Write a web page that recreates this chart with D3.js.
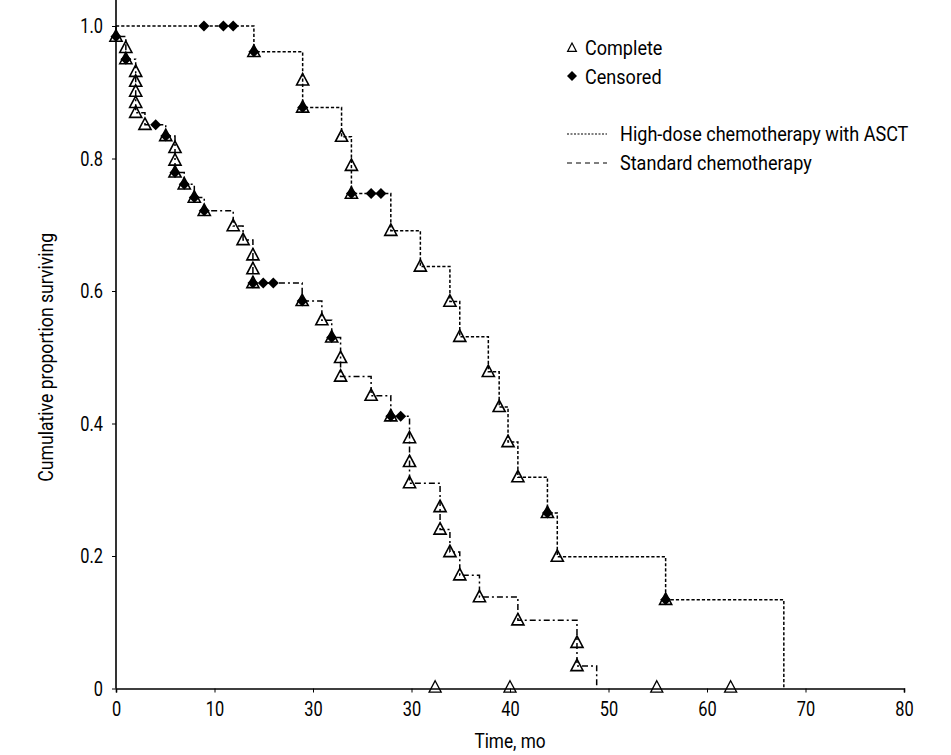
<!DOCTYPE html>
<html>
<head>
<meta charset="utf-8">
<script src="https://cdn.jsdelivr.net/npm/d3@7/dist/d3.min.js"></script>
<style>
  html, body { margin: 0; padding: 0; background: #fff; }
  svg { display: block; }
  text { font-family: Roboto, "Liberation Sans", sans-serif; fill: #000; }
</style>
</head>
<body>
<svg id="chart" width="951" height="755"></svg>
<script>
// ---- Data ----
// x tick values and the labels as printed in the original (note the repeated "30")
const xTickValues = [0, 10, 20, 30, 40, 50, 60, 70, 80];
const xTickLabels = ["0", "10", "30", "30", "40", "50", "60", "70", "80"];
const yTickValues = [0, 0.2, 0.4, 0.6, 0.8, 1.0];
const yTickLabels = ["0", "0.2", "0.4", "0.6", "0.8", "1.0"];

// Standard chemotherapy: event time (mo), survival after event, marker type
// marker: "t" = complete (triangle), "c" = censored (diamond), "tc" = both, "" = none
const stdTimes = [0, 1.0, 1.0, 2.0, 2.0, 2.0, 2.0, 2.0, 2.94, 4.03, 5.05, 5.99, 5.99, 5.99, 6.93, 7.95, 8.96,
  11.9, 12.9, 13.9, 13.9, 13.9, 14.95, 15.97, 18.9, 20.9, 21.9, 22.8, 22.8, 25.9, 27.9, 28.9,
  29.8, 29.8, 29.8, 32.9, 32.9, 33.9, 34.9, 36.9, 40.8, 46.8, 46.8, 48.8];
const stdSurv = [0.984, 0.967, 0.950, 0.931, 0.916, 0.901, 0.884, 0.869, 0.851, 0.851, 0.834, 0.816, 0.797, 0.779, 0.761, 0.741, 0.721,
  0.698, 0.677, 0.654, 0.633, 0.612, 0.612, 0.612, 0.585, 0.556, 0.530, 0.499, 0.471, 0.442, 0.411, 0.411,
  0.378, 0.342, 0.310, 0.274, 0.240, 0.206, 0.171, 0.138, 0.103, 0.069, 0.034, 0];
const stdMarks = ["tc", "t", "tc", "t", "t", "t", "t", "t", "t", "c", "tc", "t", "t", "tc", "tc", "tc", "tc",
  "t", "t", "t", "t", "tc", "c", "c", "tc", "t", "tc", "t", "t", "t", "tc", "c",
  "t", "t", "t", "t", "t", "t", "t", "t", "t", "t", "t", ""];

// High-dose chemotherapy with ASCT
const hdTimes = [8.93, 10.9, 11.9, 14.0, 18.95, 18.95, 22.9, 23.9, 23.9, 25.9, 26.9, 27.9, 30.9, 33.9, 34.9,
  37.8, 38.9, 39.8, 40.8, 43.8, 44.8, 55.8, 67.8];
const hdSurv = [1.0, 1.0, 1.0, 0.961, 0.918, 0.877, 0.833, 0.789, 0.747, 0.747, 0.747, 0.691, 0.637, 0.584, 0.531,
  0.478, 0.425, 0.372, 0.319, 0.265, 0.199, 0.134, 0];
const hdMarks = ["c", "c", "c", "tc", "t", "tc", "t", "t", "tc", "c", "c", "t", "t", "t", "t",
  "t", "t", "t", "t", "tc", "t", "tc", ""];

// Complete-event markers printed on the time axis
const axisTimes = [32.4, 40.0, 54.9, 62.4];

// ---- Layout ----
const svg = d3.select("#chart");
const x = d3.scaleLinear().domain([0, 80]).range([116, 904]);
const y = d3.scaleLinear().domain([0, 1]).range([688.5, 26]);

// horizontal condensation to imitate a condensed typeface
function condense(sel, sx) {
  sel.each(function () {
    const t = d3.select(this);
    const xv = +(t.attr("x") || 0);
    const prev = t.attr("transform") || "";
    t.attr("x", xv / sx).attr("transform", `${prev} scale(${sx},1)`);
  });
}

// Axes
const xAxis = d3.axisBottom(x).tickValues(xTickValues)
  .tickFormat((d, i) => xTickLabels[i]).tickSize(4).tickPadding(6);
const gx = svg.append("g").attr("transform", `translate(0,${y(0)})`).call(xAxis);
gx.select(".domain").attr("stroke", "#000").attr("stroke-width", 1.6);
gx.selectAll(".tick line").attr("stroke", "#000").attr("stroke-width", 1);
gx.selectAll(".tick text").attr("font-size", 21).attr("font-family", null).attr("dy", "0.82em").call(condense, 0.78);

const yAxis = d3.axisLeft(y).tickValues(yTickValues)
  .tickFormat((d, i) => yTickLabels[i]).tickSize(4).tickPadding(9);
const gy = svg.append("g").attr("transform", `translate(${x(0)},0)`).call(yAxis);
gy.select(".domain").remove();
gy.selectAll(".tick line").attr("stroke", "#000").attr("stroke-width", 1);
gy.selectAll(".tick text").attr("font-size", 21).attr("font-family", null).call(condense, 0.78);
// vertical axis line extends to the top edge
svg.append("line").attr("x1", x(0)).attr("x2", x(0)).attr("y1", 0).attr("y2", y(0))
  .attr("stroke", "#000").attr("stroke-width", 1.6);

// Axis titles
svg.append("text").attr("x", 510).attr("y", 748).attr("text-anchor", "middle")
  .attr("font-size", 21).text("Time, mo").call(condense, 0.82);
svg.append("text").attr("transform", `translate(53,${(y(0) + y(1)) / 2}) rotate(-90)`)
  .attr("text-anchor", "middle").attr("font-size", 21).text("Cumulative proportion surviving").call(condense, 0.84);

// Step path builder
function stepPath(times, surv, startT) {
  let d = `M${x(startT)},${y(1)}`;
  let prev = 1;
  times.forEach((t, i) => {
    d += `H${x(t)}`;
    if (surv[i] !== prev) { d += `V${y(surv[i])}`; prev = surv[i]; }
  });
  return d;
}

svg.append("path").attr("d", stepPath(hdTimes, hdSurv, 0))
  .attr("fill", "none").attr("stroke", "#000").attr("stroke-width", 1.5)
  .attr("stroke-dasharray", "3.2,2");
svg.append("path").attr("d", stepPath(stdTimes, stdSurv, 0))
  .attr("fill", "none").attr("stroke", "#000").attr("stroke-width", 1.5)
  .attr("stroke-dasharray", "6,3,2,3");

// Markers
const triPath = (s) => `M0,${-s * 0.62}L${s * 0.55},${s * 0.42}L${-s * 0.55},${s * 0.42}Z`;
const diaPath = (s) => `M0,${-s / 2}L${s / 2},0L0,${s / 2}L${-s / 2},0Z`;

function drawMarkers(times, surv, marks) {
  const pts = times.map((t, i) => ({ t, s: surv[i], m: marks[i] }));
  svg.append("g").selectAll("path.tri").data(pts.filter(p => p.m.includes("t")))
    .join("path").attr("class", "tri")
    .attr("transform", p => `translate(${x(p.t)},${y(p.s)})`)
    .attr("d", triPath(11)).attr("fill", "none").attr("stroke", "#000").attr("stroke-width", 1.6);
  svg.append("g").selectAll("path.dia").data(pts.filter(p => p.m.includes("c")))
    .join("path").attr("class", "dia")
    .attr("transform", p => `translate(${x(p.t)},${y(p.s)})`)
    .attr("d", diaPath(11)).attr("fill", "#000");
}
drawMarkers(stdTimes, stdSurv, stdMarks);
drawMarkers(hdTimes, hdSurv, hdMarks);

svg.append("g").selectAll("path").data(axisTimes).join("path")
  .attr("transform", t => `translate(${x(t)},${y(0) - 1})`)
  .attr("d", triPath(11)).attr("fill", "none").attr("stroke", "#000").attr("stroke-width", 1.3);

// Legend
const LS = 0.86;
const lg = svg.append("g");
lg.append("path").attr("transform", "translate(572,48)").attr("d", triPath(8))
  .attr("fill", "none").attr("stroke", "#000").attr("stroke-width", 1.2);
lg.append("text").attr("x", 585).attr("y", 48).attr("dy", "0.35em").attr("font-size", 21).text("Complete").call(condense, LS);
lg.append("path").attr("transform", "translate(572,76)").attr("d", diaPath(10)).attr("fill", "#000");
lg.append("text").attr("x", 585).attr("y", 77).attr("dy", "0.35em").attr("font-size", 21).text("Censored").call(condense, LS);
lg.append("line").attr("x1", 567).attr("x2", 607).attr("y1", 134).attr("y2", 134)
  .attr("stroke", "#000").attr("stroke-width", 1.2).attr("stroke-dasharray", "2,1.5");
lg.append("text").attr("x", 620).attr("y", 134).attr("dy", "0.35em").attr("font-size", 21).text("High-dose chemotherapy with ASCT").call(condense, LS);
lg.append("line").attr("x1", 567).attr("x2", 607).attr("y1", 163).attr("y2", 163)
  .attr("stroke", "#000").attr("stroke-width", 1.2).attr("stroke-dasharray", "5,4");
lg.append("text").attr("x", 620).attr("y", 163).attr("dy", "0.35em").attr("font-size", 21).text("Standard chemotherapy").call(condense, LS);
</script>
</body>
</html>
